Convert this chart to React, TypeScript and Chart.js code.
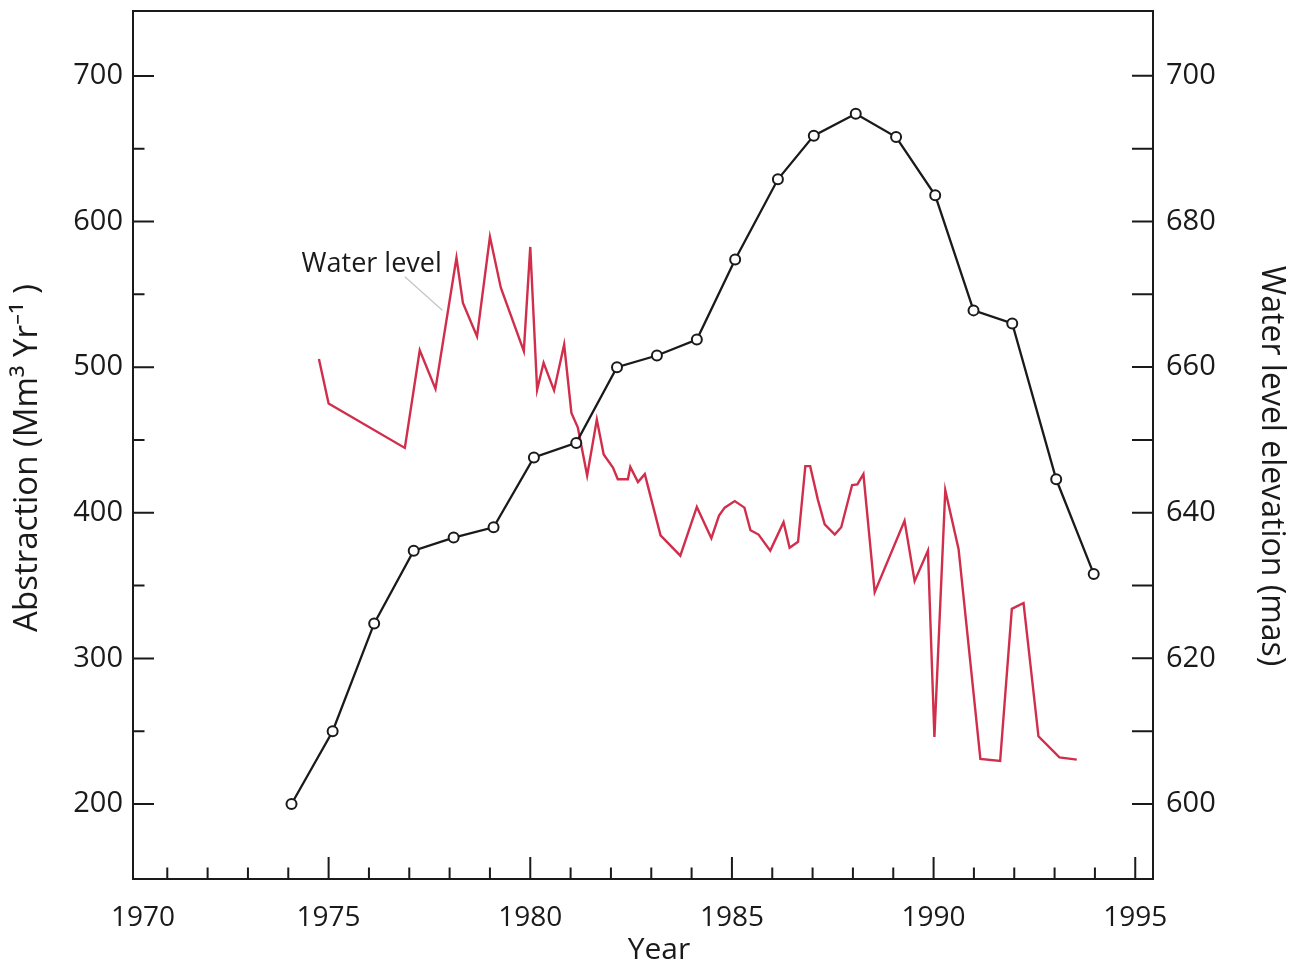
import { useEffect, useRef } from 'react';
import { Chart, registerables } from 'chart.js';

Chart.register(...registerables);

// Abstraction (left axis, Mm3/yr) – yearly points with open circle markers
const abstractionYears = [1974.08, 1975.10, 1976.13, 1977.11, 1978.10, 1979.09, 1980.09, 1981.14, 1982.15, 1983.14, 1984.13, 1985.08, 1986.14, 1987.03, 1988.07, 1989.07, 1990.04, 1990.99, 1991.95, 1993.04, 1993.97];
const abstraction = [200, 250, 324, 374, 383, 390, 438, 448, 500, 508, 519, 574, 629, 659, 674, 658, 618, 539, 530, 423, 358];

// Water level elevation (right axis, mas)
const waterYears = [1974.76, 1975.00, 1976.89, 1977.26, 1977.65, 1978.17, 1978.33, 1978.68, 1979.00, 1979.27, 1979.84, 1980.00, 1980.17, 1980.33, 1980.59, 1980.84, 1981.02, 1981.18, 1981.41, 1981.65, 1981.82, 1982.05, 1982.17, 1982.42, 1982.48, 1982.67, 1982.84, 1983.23, 1983.72, 1984.13, 1984.49, 1984.68, 1984.82, 1985.07, 1985.31, 1985.46, 1985.66, 1985.95, 1986.28, 1986.43, 1986.64, 1986.82, 1986.94, 1987.13, 1987.30, 1987.55, 1987.71, 1987.98, 1988.11, 1988.26, 1988.54, 1989.28, 1989.53, 1989.86, 1990.02, 1990.29, 1990.62, 1991.16, 1991.65, 1991.94, 1992.23, 1992.60, 1993.12, 1993.55];
const waterLevel = [661.1, 655.0, 648.9, 662.3, 657.0, 675.0, 668.8, 664.2, 677.9, 670.9, 662.2, 676.5, 656.9, 660.6, 656.8, 663.1, 653.7, 651.7, 645.1, 652.8, 648.0, 646.2, 644.6, 644.6, 646.3, 644.2, 645.3, 636.9, 634.1, 640.8, 636.5, 639.6, 640.7, 641.6, 640.7, 637.6, 637.0, 634.8, 638.7, 635.2, 636.0, 646.4, 646.4, 641.8, 638.4, 637.0, 638.0, 643.8, 643.9, 645.3, 629.1, 638.9, 630.6, 634.8, 609.2, 643.1, 635.0, 606.2, 605.9, 626.8, 627.6, 609.3, 606.4, 606.1];

// Ticks
const xTickYears = [1971, 1972, 1973, 1974, 1975, 1976, 1977, 1978, 1979, 1980, 1981, 1982, 1983, 1984, 1985, 1986, 1987, 1988, 1989, 1990, 1991, 1992, 1993, 1994, 1995];
const xLabelYears = [1970, 1975, 1980, 1985, 1990, 1995];
const leftTicks = [200, 250, 300, 350, 400, 450, 500, 550, 600, 650, 700];
const leftLabels = [200, 300, 400, 500, 600, 700];
const rightTicks = [600, 610, 620, 630, 640, 650, 660, 670, 680, 690, 700];
const rightLabels = [600, 620, 640, 660, 680, 700];

// Axis titles
const xTitle = 'Year';
const leftTitle = 'Abstraction (Mm³ Yr⁻¹ )';
const rightTitle = 'Water level elevation (mas)';

// Annotation (in data coordinates: x = year, y = water level)
const annotationText = 'Water level';
const annotationAt = [1974.33, 673.1];
const leaderFrom = [1976.89, 672.4];
const leaderTo = [1977.82, 667.8];

const INK = '#1a1a1a';
const RED = '#d12e4c';
const FONT = "'Open Sans', 'Noto Sans', sans-serif";

const framePlugin = {
  id: 'frameTicksAnnot',
  afterDraw(chart: any) {
    const { ctx, chartArea } = chart;
    const x = chart.scales.x;
    const y = chart.scales.y;
    const y1 = chart.scales.y1;
    const midY = (chartArea.top + chartArea.bottom) / 2;
    const midX = (chartArea.left + chartArea.right) / 2;
    ctx.save();
    ctx.strokeStyle = INK;
    ctx.lineWidth = 2;
    ctx.lineCap = 'butt';
    ctx.beginPath();
    // inward ticks
    xTickYears.forEach((v) => {
      const px = x.getPixelForValue(v);
      const len = v % 5 === 0 ? 22 : 11.5;
      ctx.moveTo(px, chartArea.bottom);
      ctx.lineTo(px, chartArea.bottom - len);
    });
    leftTicks.forEach((v) => {
      const py = y.getPixelForValue(v);
      const len = v % 100 === 0 ? 21 : 11.5;
      ctx.moveTo(chartArea.left, py);
      ctx.lineTo(chartArea.left + len, py);
    });
    rightTicks.forEach((v) => {
      const py = y1.getPixelForValue(v);
      ctx.moveTo(chartArea.right, py);
      ctx.lineTo(chartArea.right - 21, py);
    });
    ctx.stroke();
    ctx.strokeRect(chartArea.left, chartArea.top, chartArea.right - chartArea.left, chartArea.bottom - chartArea.top);

    // annotation leader
    ctx.strokeStyle = '#c4c4c4';
    ctx.lineWidth = 1.2;
    ctx.beginPath();
    ctx.moveTo(x.getPixelForValue(leaderFrom[0]), y1.getPixelForValue(leaderFrom[1]));
    ctx.lineTo(x.getPixelForValue(leaderTo[0]), y1.getPixelForValue(leaderTo[1]));
    ctx.stroke();

    ctx.fillStyle = INK;
    ctx.font = `27px ${FONT}`;
    ctx.textAlign = 'left';
    ctx.textBaseline = 'alphabetic';
    ctx.fillText(annotationText, x.getPixelForValue(annotationAt[0]), y1.getPixelForValue(annotationAt[1]));

    // axis titles
    ctx.textAlign = 'center';
    ctx.textBaseline = 'middle';
    ctx.font = `30px ${FONT}`;
    ctx.fillText(xTitle, midX + 16, chartArea.bottom + 71);

    ctx.save();
    ctx.font = `33px ${FONT}`;
    ctx.translate(27.5, midY + 13);
    ctx.rotate(-Math.PI / 2);
    ctx.fillText(leftTitle, 0, 0);
    ctx.restore();

    ctx.save();
    ctx.font = `32px ${FONT}`;
    ctx.translate(chart.width - 23, midY + 21);
    ctx.rotate(Math.PI / 2);
    ctx.fillText(rightTitle, 0, 0);
    ctx.restore();

    ctx.restore();
  },
};

const noPad = (scale: any) => {
  scale.paddingTop = 0;
  scale.paddingBottom = 0;
};

export default function App() {
  const ref = useRef<HTMLCanvasElement | null>(null);

  useEffect(() => {
    if (!ref.current) return;
    Chart.defaults.font.family = FONT;
    Chart.defaults.color = INK;
    const chart = new Chart(ref.current, {
      type: 'line',
      data: {
        datasets: [
          {
            label: 'Abstraction',
            data: abstractionYears.map((yr, i) => ({ x: yr, y: abstraction[i] })),
            yAxisID: 'y',
            borderColor: INK,
            borderWidth: 2.3,
            pointRadius: 5,
            pointBackgroundColor: '#ffffff',
            pointBorderColor: INK,
            pointBorderWidth: 2,
            tension: 0,
            order: 1,
          },
          {
            label: 'Water level',
            data: waterYears.map((yr, i) => ({ x: yr, y: waterLevel[i] })),
            yAxisID: 'y1',
            borderColor: RED,
            borderWidth: 2.4,
            pointRadius: 0,
            tension: 0,
            order: 2,
          },
        ],
      },
      options: {
        animation: false,
        responsive: false,
        layout: { padding: { top: 11, left: 0, right: 0, bottom: 0 } },
        plugins: { legend: { display: false }, tooltip: { enabled: false } },
        scales: {
          x: {
            type: 'linear',
            position: 'bottom',
            min: 1970.15,
            max: 1995.44,
            grid: { display: false, drawTicks: false },
            border: { display: false },
            afterBuildTicks: (scale: any) => {
              const ticks = xTickYears.map((v) => ({ value: v }));
              ticks.unshift({ value: scale.min + 0.25 });
              scale.ticks = ticks;
            },
            afterFit: (scale: any) => {
              scale.height = 92;
            },
            ticks: {
              autoSkip: false,
              maxRotation: 0,
              padding: 22,
              font: { size: 28 },
              color: INK,
              callback: (value: any) => {
                const r = Math.round(Number(value));
                return xLabelYears.includes(r) ? String(r) : '';
              },
            },
            title: { display: false, text: xTitle },
          },
          y: {
            type: 'linear',
            position: 'left',
            min: 148.5,
            max: 744.6,
            grid: { display: false, drawTicks: false },
            border: { display: false },
            afterBuildTicks: (scale: any) => {
              scale.ticks = leftTicks.map((v) => ({ value: v }));
            },
            afterFit: (scale: any) => {
              scale.width = 133;
              noPad(scale);
            },
            ticks: {
              padding: 10,
              font: { size: 29 },
              color: INK,
              callback: (value: any) => (leftLabels.includes(Number(value)) ? String(value) : ''),
            },
            title: { display: false, text: leftTitle },
          },
          y1: {
            type: 'linear',
            position: 'right',
            min: 589.7,
            max: 708.9,
            grid: { display: false, drawTicks: false },
            border: { display: false },
            afterBuildTicks: (scale: any) => {
              scale.ticks = rightTicks.map((v) => ({ value: v }));
            },
            afterFit: (scale: any) => {
              scale.width = 141;
              noPad(scale);
            },
            ticks: {
              padding: 13,
              font: { size: 29 },
              color: INK,
              callback: (value: any) => (rightLabels.includes(Number(value)) ? String(value) : ''),
            },
            title: { display: false, text: rightTitle },
          },
        },
      },
      plugins: [framePlugin],
    } as any);
    return () => chart.destroy();
  }, []);

  return (
    <div style={{ position: 'fixed', left: 0, top: 0, width: 1294, height: 971, background: '#ffffff' }}>
      <canvas ref={ref} width={1294} height={971} style={{ display: 'block', width: 1294, height: 971 }} />
    </div>
  );
}
